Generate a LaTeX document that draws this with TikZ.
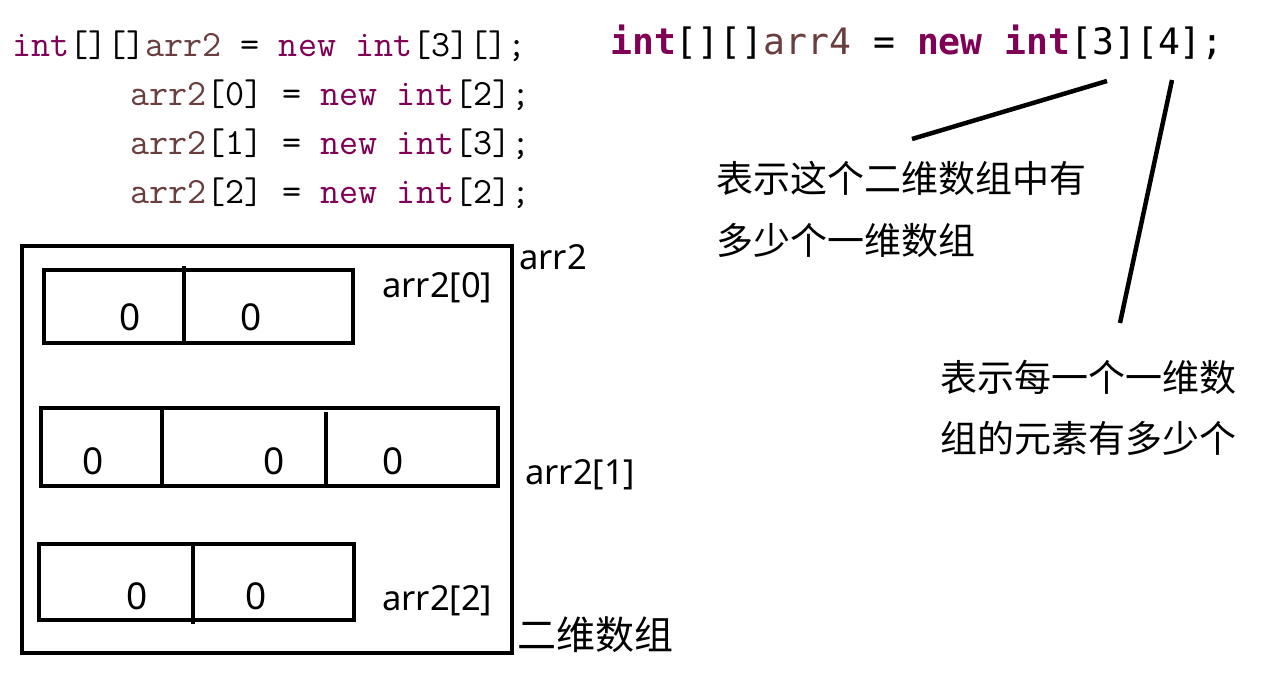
\documentclass[tikz,border=0pt]{standalone}
\usepackage{fontspec}
\newfontfamily\cjk{Noto Sans CJK SC}
\newfontfamily\lab{Noto Sans}
\newfontfamily\dmono{DejaVu Sans Mono}
\definecolor{kw}{HTML}{7F0055}
\definecolor{var}{HTML}{6A3E3E}
\tikzset{
  codeL/.style={anchor=base west, inner sep=0pt, font=\ttfamily\fontsize{37}{37}\selectfont},
  codeR/.style={anchor=base west, inner sep=0pt, font=\dmono\fontsize{36.4}{36}\selectfont},
  note/.style={anchor=west, inner sep=0pt, font=\cjk\fontsize{37}{37}\selectfont},
  lbl/.style={anchor=base west, inner sep=0pt, font=\lab\fontsize{34.5}{34}\selectfont},
  zero/.style={inner sep=0pt, font=\lab\fontsize{37}{37}\selectfont},
  cellbox/.style={draw=black, line width=4pt},
  pointer/.style={draw=black, line width=4.5pt}
}
\begin{document}
\begin{tikzpicture}[x=1pt,y=-1pt]
\useasboundingbox[fill=white] (0,0) rectangle (1274,695);

% left code
\node[codeL] (c1) at (12,57) {{\color{kw}int}[][]{\color{var}arr2} = {\color{kw}new} {\color{kw}int}[3][];};
\node[codeL] (c2) at (130,106) {{\color{var}arr2}[0] = {\color{kw}new} {\color{kw}int}[2];};
\node[codeL] (c3) at (130,155) {{\color{var}arr2}[1] = {\color{kw}new} {\color{kw}int}[3];};
\node[codeL] (c4) at (130,204) {{\color{var}arr2}[2] = {\color{kw}new} {\color{kw}int}[2];};

% right code
\node[codeR] (r1) at (610,55) {{\bfseries\color{kw}int}[][]{\color{var}arr4} = {\bfseries\color{kw}new} {\bfseries\color{kw}int}[3][4];};

% notes
\node[note] (n1) at (716,178) {表示这个二维数组中有};
\node[note] (n2) at (716,240) {多少个一维数组};
\node[note] (n3) at (940,377) {表示每一个一维数};
\node[note] (n4) at (940,438) {组的元素有多少个};

% pointer lines
\coordinate (p3) at (1107,81);
\coordinate (q3) at (912,139);
\coordinate (p4) at (1172,80);
\coordinate (q4) at (1120,323);
\draw[pointer] (p3) -- (q3);
\draw[pointer] (p4) -- (q4);

% outer box
\draw[cellbox, line width=4.5pt] (22,246) rectangle (512,653);

% arr2[0]
\draw[cellbox] (44,270) rectangle (353,343);
\draw[cellbox] (184,266) -- (184,343);
\node[zero] (z00) at (130,317) {0};
\node[zero] (z01) at (251,317) {0};

% arr2[1]
\draw[cellbox] (41,408) rectangle (498,486);
\draw[cellbox] (162,408) -- (162,486);
\draw[cellbox] (326,412) -- (326,486);
\node[zero] (z10) at (93,461) {0};
\node[zero] (z11) at (274,461) {0};
\node[zero] (z12) at (393,461) {0};

% arr2[2]
\draw[cellbox] (39,544) rectangle (354,620);
\draw[cellbox] (193,544) -- (193,624);
\node[zero] (z20) at (137,596) {0};
\node[zero] (z21) at (256,596) {0};

% labels
\node[lbl] (la) at (519,269) {arr2};
\node[lbl] (l0) at (382,297) {arr2[0]};
\node[lbl] (l1) at (525,484) {arr2[1]};
\node[lbl] (l2) at (382,610) {arr2[2]};
\node[anchor=west, inner sep=0pt, font=\cjk\fontsize{39}{39}\selectfont] (l3) at (517,635) {二维数组};
\end{tikzpicture}
\end{document}
